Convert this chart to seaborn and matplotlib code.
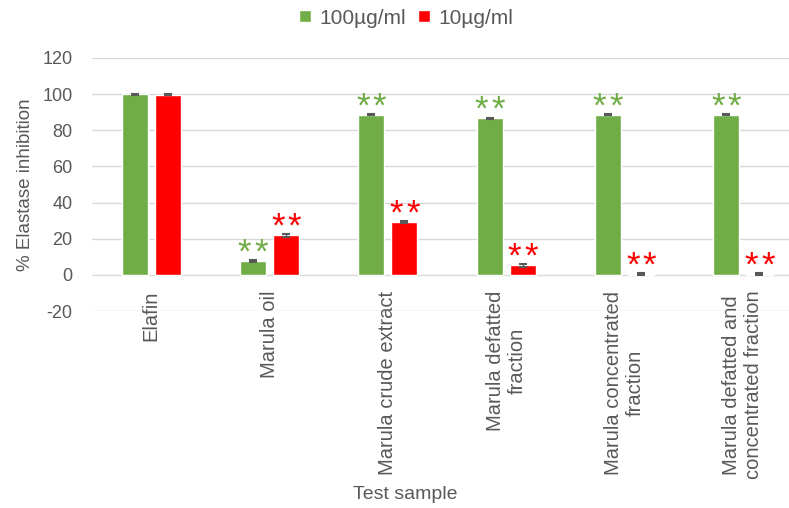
import matplotlib
matplotlib.use('Agg')
import matplotlib.pyplot as plt
import pandas as pd
import seaborn as sns

# Dados
samples = ['Elafin', 'Marula oil', 'Marula crude extract',
           'Marula defatted\nfraction', 'Marula concentrated\nfraction',
           'Marula defatted and\nconcentrated fraction']
conc_labels = ['100µg/ml', '10µg/ml']
inhib_100 = [100.0, 7.5, 88.6, 86.6, 88.6, 88.6]
inhib_10 = [99.6, 21.8, 29.4, 5.2, 0.4, 0.4]
err_100 = [0.3, 0.6, 0.4, 0.4, 0.3, 0.3]
err_10 = [0.3, 1.0, 0.6, 0.6, 0.4, 0.4]
stars_100 = [0, 2, 2, 2, 2, 2]   # número de asteriscos
stars_10 = [0, 2, 2, 2, 2, 2]

colors = ['#70AD47', '#FF0000']
grey = '#595959'

df = pd.DataFrame({
    'sample': samples * 2,
    'conc': [conc_labels[0]] * len(samples) + [conc_labels[1]] * len(samples),
    'value': inhib_100 + inhib_10,
})

sns.set_style('white')
plt.rcParams['font.family'] = ['Liberation Sans', 'DejaVu Sans']
plt.rcParams['axes.unicode_minus'] = False

fig = plt.figure(figsize=(7.89, 5.08), dpi=100)
ax = fig.add_axes([92 / 789, 1 - 311 / 508, 1 - 92 / 789, (311 - 58) / 508])

sns.barplot(data=df, x='sample', y='value', hue='conc', palette=colors,
            saturation=1, width=0.56, gap=0.21, ax=ax, errorbar=None, zorder=3)

# Barras de erro e asteriscos
n = len(samples)
bars = ax.patches[:2 * n]
for k, (vals, errs, stars, col) in enumerate([(inhib_100, err_100, stars_100, colors[0]),
                                                (inhib_10, err_10, stars_10, colors[1])]):
    for i in range(n):
        p = bars[k * n + i]
        xc = p.get_x() + p.get_width() / 2
        ax.errorbar(xc, vals[i], yerr=errs[i], color=grey, capsize=3,
                    elinewidth=1, capthick=1.5, zorder=4)
        for s in range(stars[i]):
            dx = (s - (stars[i] - 1) / 2) * 12
            ax.annotate('*', (xc, vals[i]), xytext=(dx, -1),
                        textcoords='offset points', color=col, ha='center',
                        va='baseline', fontsize=25, zorder=5)

ax.set_ylim(-20, 120)
ax.set_yticks(range(-20, 121, 20))
ax.set_xlim(-0.5, 5.39)
ax.yaxis.grid(True, color='#D9D9D9', linewidth=1)
ax.set_axisbelow(True)
sns.despine(ax=ax, left=True, bottom=True)

ax.tick_params(axis='y', length=0, labelsize=13, labelcolor=grey, pad=14)
ax.tick_params(axis='x', length=0, labelsize=14.5, labelcolor=grey, pad=-14.5)
plt.setp(ax.get_xticklabels(), rotation=90, ha='center', va='top',
         multialignment='center')

ax.set_xlabel('Test sample', fontsize=14, color=grey)
ax.xaxis.set_label_coords((405 - 92) / (789 - 92), -(486 - 311) / (311 - 58))
ax.set_ylabel('% Elastase inhibition', fontsize=13.5, color=grey)
ax.yaxis.set_label_coords(-(92 - 34) / (789 - 92), 0.5)

ax.legend(loc='center', bbox_to_anchor=((406 - 92) / (789 - 92), 1 + (58 - 18) / (311 - 58)),
          ncol=2, frameon=False, fontsize=15, handlelength=0.55, handleheight=0.55,
          handletextpad=0.4, columnspacing=0.6, labelcolor=grey)

fig.savefig('out.png', dpi=100)
